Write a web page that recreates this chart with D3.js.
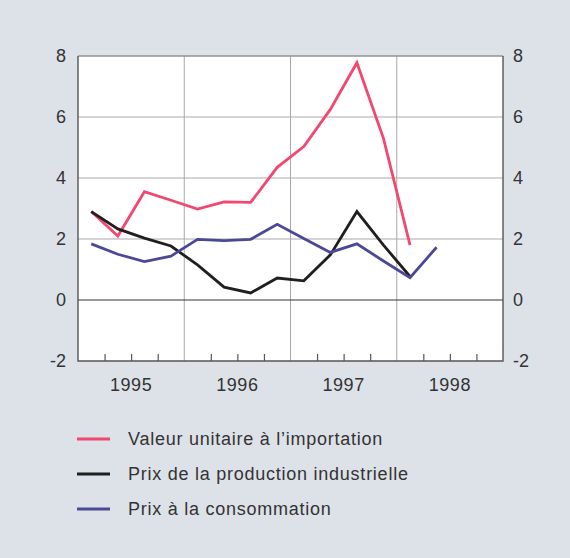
<!DOCTYPE html>
<html>
<head>
<meta charset="utf-8">
<script src="https://cdn.jsdelivr.net/npm/d3@7"></script>
<style>
  body { margin: 0; background: #dde2e8; }
  svg { display: block; font-family: "Liberation Sans", Arial, sans-serif; }
</style>
</head>
<body>
<svg id="chart" width="570" height="558"></svg>
<script>
// quarters, 1995 Q1 .. 1998 Q2
let quarters = ['1995T1', '1995T2', '1995T3', '1995T4',
  '1996T1', '1996T2', '1996T3', '1996T4',
  '1997T1', '1997T2', '1997T3', '1997T4',
  '1998T1', '1998T2'];
let years = [1995, 1996, 1997, 1998];
let yTicks = [-2, 0, 2, 4, 6, 8];

let importValues = [2.9, 2.1, 3.55, 3.27, 2.98, 3.22, 3.2, 4.35, 5.03, 6.25, 7.78, 5.3, 1.8];
let producerValues = [2.9, 2.33, 2.03, 1.77, 1.15, 0.42, 0.23, 0.72, 0.63, 1.48, 2.9, 1.8, 0.77];
let consumerValues = [1.84, 1.5, 1.26, 1.44, 1.99, 1.95, 1.99, 2.48, 2.02, 1.56, 1.84, 1.28, 0.73, 1.73];

let seriesNames = ['Valeur unitaire à l\u2019importation', 'Prix de la production industrielle', 'Prix à la consommation'];
let seriesColors = ['#f2476f', '#1f1f1f', '#4b4896'];

let plot = { left: 78, right: 503, top: 56, bottom: 361 };

let svg = d3.select('#chart');

// quarter position as fractional year (middle of quarter)
function qPos(q) {
  let y = +q.slice(0, 4);
  let n = +q.slice(5);
  return y + (n - 0.5) / 4;
}

let x = d3.scaleLinear()
  .domain([years[0], years[years.length - 1] + 1])
  .range([plot.left, plot.right]);

let y = d3.scaleLinear()
  .domain([yTicks[0], yTicks[yTicks.length - 1]])
  .range([plot.bottom, plot.top]);

//======= plot area =======//
svg.append('rect')
  .attr('x', plot.left)
  .attr('y', plot.top)
  .attr('width', plot.right - plot.left)
  .attr('height', plot.bottom - plot.top)
  .attr('fill', '#fff');

// horizontal grid
svg.append('g')
  .selectAll('line')
  .data(yTicks.filter(d => d != 0 && d != yTicks[0]))
  .enter()
  .append('line')
  .attr('x1', plot.left).attr('x2', plot.right)
  .attr('y1', d => y(d)).attr('y2', d => y(d))
  .attr('stroke', '#a9a9a9')
  .attr('stroke-width', 1);

// vertical grid at year boundaries
svg.append('g')
  .selectAll('line')
  .data(years.slice(1))
  .enter()
  .append('line')
  .attr('x1', d => x(d)).attr('x2', d => x(d))
  .attr('y1', plot.top).attr('y2', plot.bottom)
  .attr('stroke', '#a9a9a9')
  .attr('stroke-width', 1);

// quarter ticks on bottom axis
let qTicks = d3.range(years[0], years[years.length - 1] + 1, 0.25).filter(d => d % 1 != 0);
svg.append('g')
  .call(d3.axisTop(x).tickValues(qTicks).tickSize(7).tickSizeOuter(0).tickFormat(''))
  .attr('transform', 'translate(0,' + plot.bottom + ')')
  .call(g => g.select('.domain').remove())
  .selectAll('line')
  .attr('stroke', '#555')
  .attr('stroke-width', 1.2);

// zero line
svg.append('line')
  .attr('x1', plot.left).attr('x2', plot.right)
  .attr('y1', y(0)).attr('y2', y(0))
  .attr('stroke', '#333')
  .attr('stroke-width', 1.2);

// frame
svg.append('line')
  .attr('x1', plot.left).attr('x2', plot.right)
  .attr('y1', plot.top).attr('y2', plot.top)
  .attr('stroke', '#888').attr('stroke-width', 1);
svg.append('path')
  .attr('d', 'M' + plot.left + ',' + plot.top + 'V' + plot.bottom + 'H' + plot.right + 'V' + plot.top)
  .attr('fill', 'none')
  .attr('stroke', '#555')
  .attr('stroke-width', 1.4);

//======= axis labels =======//
let leftAxis = svg.append('g')
  .attr('transform', 'translate(' + plot.left + ',0)')
  .call(d3.axisLeft(y).tickValues(yTicks).tickSize(0).tickPadding(12).tickFormat(d => String(d)));
let rightAxis = svg.append('g')
  .attr('transform', 'translate(' + plot.right + ',0)')
  .call(d3.axisRight(y).tickValues(yTicks).tickSize(0).tickPadding(10).tickFormat(d => String(d)));
[leftAxis, rightAxis].forEach(function (g) {
  g.select('.domain').remove();
  g.selectAll('text')
    .attr('font-family', '"Liberation Sans", Arial, sans-serif')
    .attr('font-size', 18)
    .attr('fill', '#333');
});

svg.append('g')
  .selectAll('text')
  .data(years)
  .enter()
  .append('text')
  .attr('x', d => x(d + 0.5))
  .attr('y', 391)
  .attr('text-anchor', 'middle')
  .attr('font-size', 18)
  .attr('letter-spacing', 0.5)
  .attr('fill', '#333')
  .text(d => d);

//======= series =======//
let line = d3.line()
  .x(d => x(qPos(d.q)))
  .y(d => y(d.v));

[importValues, producerValues, consumerValues].forEach(function (vals, i) {
  let pts = vals.map((v, j) => ({ q: quarters[j], v: v }));
  svg.append('path')
    .datum(pts)
    .attr('fill', 'none')
    .attr('stroke', seriesColors[i])
    .attr('stroke-width', 2.8)
    .attr('stroke-linejoin', 'miter')
    .attr('d', line);
});

//======= legend =======//
let legend = svg.append('g')
  .selectAll('g')
  .data(seriesNames)
  .enter()
  .append('g')
  .attr('transform', (d, i) => 'translate(77,' + (439 + i * 35) + ')');

legend.append('line')
  .attr('x1', 0).attr('x2', 33)
  .attr('stroke', (d, i) => seriesColors[i])
  .attr('stroke-width', 2.8);

legend.append('text')
  .attr('x', 51)
  .attr('y', 6)
  .attr('font-size', 18)
  .attr('letter-spacing', 0.75)
  .attr('fill', '#333')
  .text(d => d);
</script>
</body>
</html>
